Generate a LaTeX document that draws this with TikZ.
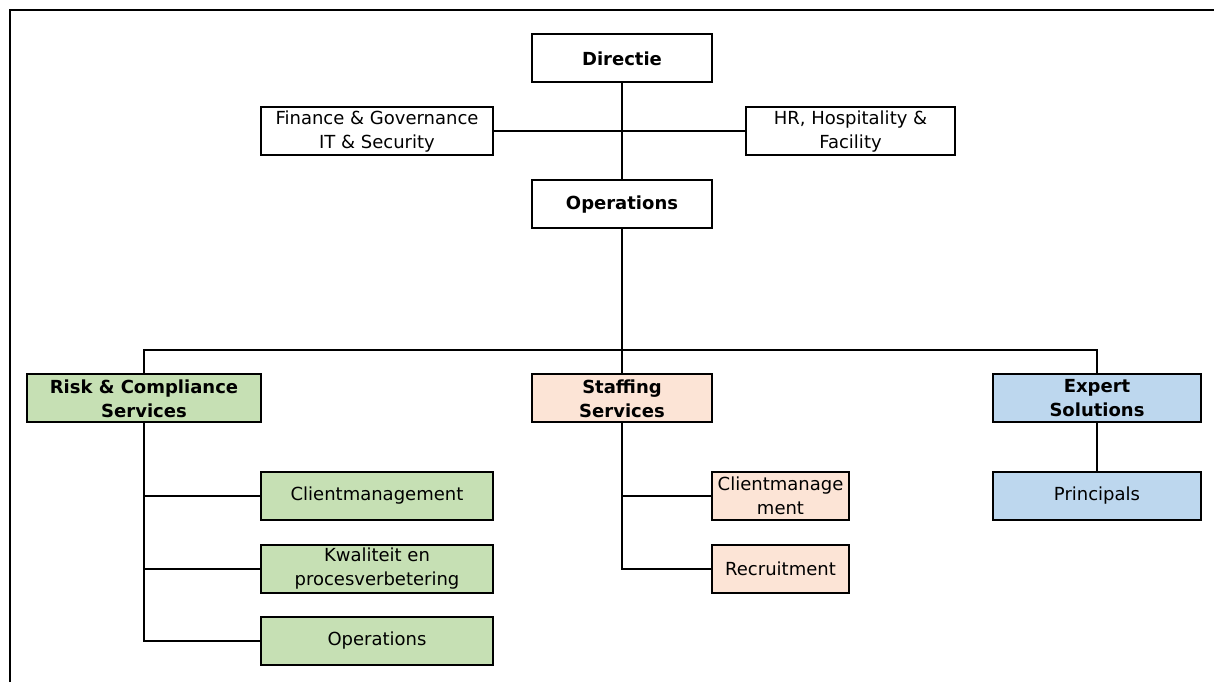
\documentclass[tikz,border=0pt]{standalone}
\usepackage{fontspec}
\setmainfont{DejaVu Sans}
\definecolor{rcgreen}{RGB}{198,224,180}
\definecolor{sspeach}{RGB}{252,228,214}
\definecolor{esblue}{RGB}{189,215,238}
\tikzset{
	unit/.style={draw, line width=2pt, align=center, inner sep=0pt,
		minimum height=48pt, font=\fontsize{18}{24}\selectfont},
	head/.style={unit, font=\fontsize{18}{24}\selectfont\bfseries},
	link/.style={line width=2pt},
}
\begin{document}
\begin{tikzpicture}[x=1pt, y=1pt]
	\useasboundingbox (0,0) rectangle (1214,682);
	\draw[line width=2.5pt] (10,0) -- (10,672) -- (1214,672);
	% top
	\node[head, minimum width=180pt] (dir) at (622,623.5) {Directie};
	\node[unit, minimum width=232pt] (fin) at (377,550.5) {Finance \& Governance\\IT \& Security};
	\node[unit, minimum width=209pt] (hr) at (850.5,550.5) {HR, Hospitality \&\\Facility};
	\node[head, minimum width=180pt] (ops) at (622,477.5) {Operations};
	% departments
	\node[head, fill=rcgreen, minimum width=234pt] (risk) at (144,283.5) {Risk \& Compliance\\Services};
	\node[head, fill=sspeach, minimum width=180pt] (staff) at (622,283.5) {Staffing\\Services};
	\node[head, fill=esblue, minimum width=208pt] (expert) at (1097,283.5) {Expert\\Solutions};
	\coordinate (bus) at (622,332);
	% teams
	\node[unit, fill=rcgreen, minimum width=232pt] (rcclient) at (377,186) {Clientmanagement};
	\node[unit, fill=rcgreen, minimum width=232pt] (rcquality) at (377,113) {Kwaliteit en\\procesverbetering};
	\node[unit, fill=rcgreen, minimum width=232pt] (rcops) at (377,41) {Operations};
	\node[unit, fill=sspeach, minimum width=137pt] (ssclient) at (780.5,186) {Clientmanage\\ment};
	\node[unit, fill=sspeach, minimum width=137pt] (ssrecruit) at (780.5,113) {Recruitment};
	\node[unit, fill=esblue, minimum width=208pt] (esprincipal) at (1097,186) {Principals};
	% lines
	\draw[link] (dir) -- (ops);
	\draw[link] (fin) -- (hr);
	\draw[link] (ops) -- (staff);
	\draw[link] (risk.north) |- (bus) -| (expert.north);
	\draw[link] (risk.south) |- (rcclient.west);
	\draw[link] (risk.south) |- (rcquality.west);
	\draw[link] (risk.south) |- (rcops.west);
	\draw[link] (staff.south) |- (ssclient.west);
	\draw[link] (staff.south) |- (ssrecruit.west);
	\draw[link] (expert) -- (esprincipal);
\end{tikzpicture}
\end{document}
